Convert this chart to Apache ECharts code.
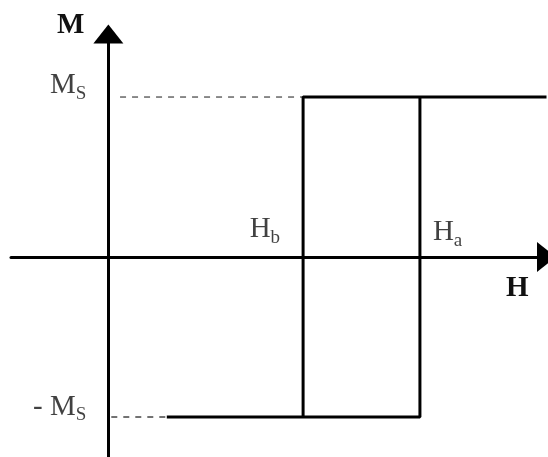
<!DOCTYPE html>
<html>
<head>
<meta charset="utf-8">
<script src="https://cdn.jsdelivr.net/npm/echarts@6/dist/echarts.min.js"></script>
<style>
  html, body { margin: 0; padding: 0; background: #fff; }
  #main { width: 548px; height: 457px; }
</style>
</head>
<body>
<div id="main"></div>
<script>
// hysteresis loop: M vs H
var Ms = 1;          // saturation magnetisation
var Hb = 2;          // switching field (down)
var Ha = 3.2;        // switching field (up)
var Hmax = 4.5;
var Hstart = 0.6;    // where the lower solid branch starts

var upperBranch = [[Hb, -Ms], [Hb, Ms], [Hmax, Ms]];
var lowerBranch = [[Hstart, -Ms], [Ha, -Ms], [Ha, Ms]];
var dashTop = [[0.12, Ms], [Hb, Ms]];
var dashBottom = [[0.03, -Ms], [Hstart, -Ms]];

// label text and anchor points
var pointLabels = [
    {value: [0, Ms], text: '{h|M}{s|S}', align: 'right', offset: [-22, 6]},
    {value: [0, -Ms], text: '{h|- M}{s|S}', align: 'right', offset: [-22, 8]},
    {value: [Hb, 0], text: '{h|H}{s|b}', align: 'right', offset: [-23, -10]},
    {value: [Ha, 0], text: '{h|H}{s|a}', align: 'left', offset: [13, -7]}
];

var serif = '"Liberation Serif", "DejaVu Serif", serif';
var rich = {
    h: {fontFamily: serif, fontSize: 29, color: '#111'},
    s: {fontFamily: serif, fontSize: 19, color: '#111', padding: [16, 0, 0, 0]}
};

var myChart = echarts.init(document.getElementById('main'));

var option = {
    animation: false,
    grid: {left: 11, right: 1.5, top: 34, bottom: 0, outerBoundsMode: 'none', containLabel: false},
    xAxis: {
        type: 'value',
        min: -1, max: Hmax,
        name: 'H',
        nameLocation: 'end',
        nameGap: 0,
        nameTextStyle: {
            fontFamily: serif, fontSize: 29, fontWeight: 'bold', color: '#111',
            align: 'right', verticalAlign: 'top', padding: [17, 18, 0, 0]
        },
        axisLine: {
            onZero: true,
            symbol: ['none', 'triangle'],
            symbolSize: [30, 19],
            lineStyle: {color: '#000', width: 3}
        },
        axisTick: {show: false},
        axisLabel: {show: false},
        splitLine: {show: false}
    },
    yAxis: {
        type: 'value',
        min: -1.25, max: 1.394,
        name: 'M',
        nameLocation: 'end',
        nameGap: 8,
        nameTextStyle: {
            fontFamily: serif, fontSize: 29, fontWeight: 'bold', color: '#111',
            align: 'right', verticalAlign: 'middle', padding: [0, 24, 0, 0]
        },
        axisLine: {
            onZero: true,
            symbol: ['none', 'triangle'],
            symbolSize: [30, 19],
            lineStyle: {color: '#000', width: 3}
        },
        axisTick: {show: false},
        axisLabel: {show: false},
        splitLine: {show: false}
    },
    series: [
        {
            type: 'line', data: upperBranch, symbol: 'none',
            lineStyle: {color: '#000', width: 3}
        },
        {
            type: 'line', data: lowerBranch, symbol: 'none',
            lineStyle: {color: '#000', width: 3}
        },
        {
            type: 'line', data: dashTop, symbol: 'none', z: 1,
            lineStyle: {color: '#666', width: 1.5, type: [6, 6]}
        },
        {
            type: 'line', data: dashBottom, symbol: 'none', z: 1,
            lineStyle: {color: '#444', width: 1.5, type: [6, 6]}
        },
        {
            type: 'scatter', symbolSize: 0,
            data: pointLabels.map(function (d) {
                return {
                    value: d.value,
                    label: {
                        show: true, formatter: d.text, rich: rich, color: '#111',
                        position: d.offset, align: d.align, verticalAlign: 'bottom'
                    }
                };
            })
        }
    ]
};
myChart.setOption(option);
</script>
</body>
</html>
